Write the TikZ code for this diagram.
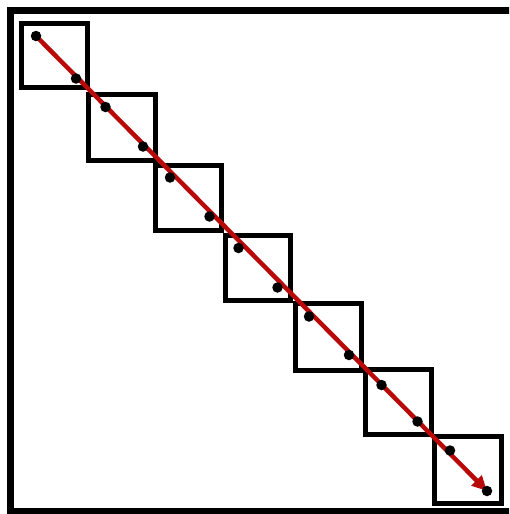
\documentclass[tikz,border=0pt]{standalone}
\usetikzlibrary{arrows.meta}
\definecolor{arrowred}{RGB}{185,10,10}
\tikzset{
  frame/.style={line width=7pt, draw=black},
  cell/.style={draw=black, line width=5pt, rectangle, inner sep=0pt, fill=none},
  dot/.style={circle, fill=black, minimum size=10.5pt, inner sep=0pt},
  path arrow/.style={draw=arrowred, line width=4.5pt, -{Triangle[length=15pt,width=14pt]}}
}
\begin{document}
\begin{tikzpicture}[x=1pt,y=-1pt]
\clip (0,0) rectangle (509,514);
\fill[white] (0,0) rectangle (509,514);
\draw[frame] (10.5,10.5) rectangle (520,511);
\node[cell, minimum width=66pt, minimum height=64.5pt] (b1) at (54.5,55.25) {};
\node[cell, minimum width=67pt, minimum height=66pt] (b2) at (122,127.5) {};
\node[cell, minimum width=65.5pt, minimum height=65.6pt] (b3) at (188.5,198) {};
\node[cell, minimum width=65pt, minimum height=65.6pt] (b4) at (258.3,268) {};
\node[cell, minimum width=65.5pt, minimum height=67.3pt] (b5) at (328.5,337.2) {};
\node[cell, minimum width=66pt, minimum height=64.5pt] (b6) at (398.5,401.75) {};
\node[cell, minimum width=67pt, minimum height=67pt] (b7) at (468,470) {};
\coordinate (p1) at (36,36);
\coordinate (p2) at (76,78.5);
\coordinate (p3) at (105.5,107);
\coordinate (p4) at (143,146.5);
\coordinate (p5) at (170,177.5);
\coordinate (p6) at (209.5,216.5);
\coordinate (p7) at (238.5,248);
\coordinate (p8) at (277.5,287.5);
\coordinate (p9) at (309,316.5);
\coordinate (p10) at (349,355);
\coordinate (p11) at (381.5,385);
\coordinate (p12) at (417.5,421.5);
\coordinate (p13) at (450,450.5);
\coordinate (p14) at (487,491);
\draw[path arrow] (p1) -- (p14);
\foreach \k in {1,...,14} {
  \node[dot] (d\k) at (p\k) {};
}
\end{tikzpicture}
\end{document}
